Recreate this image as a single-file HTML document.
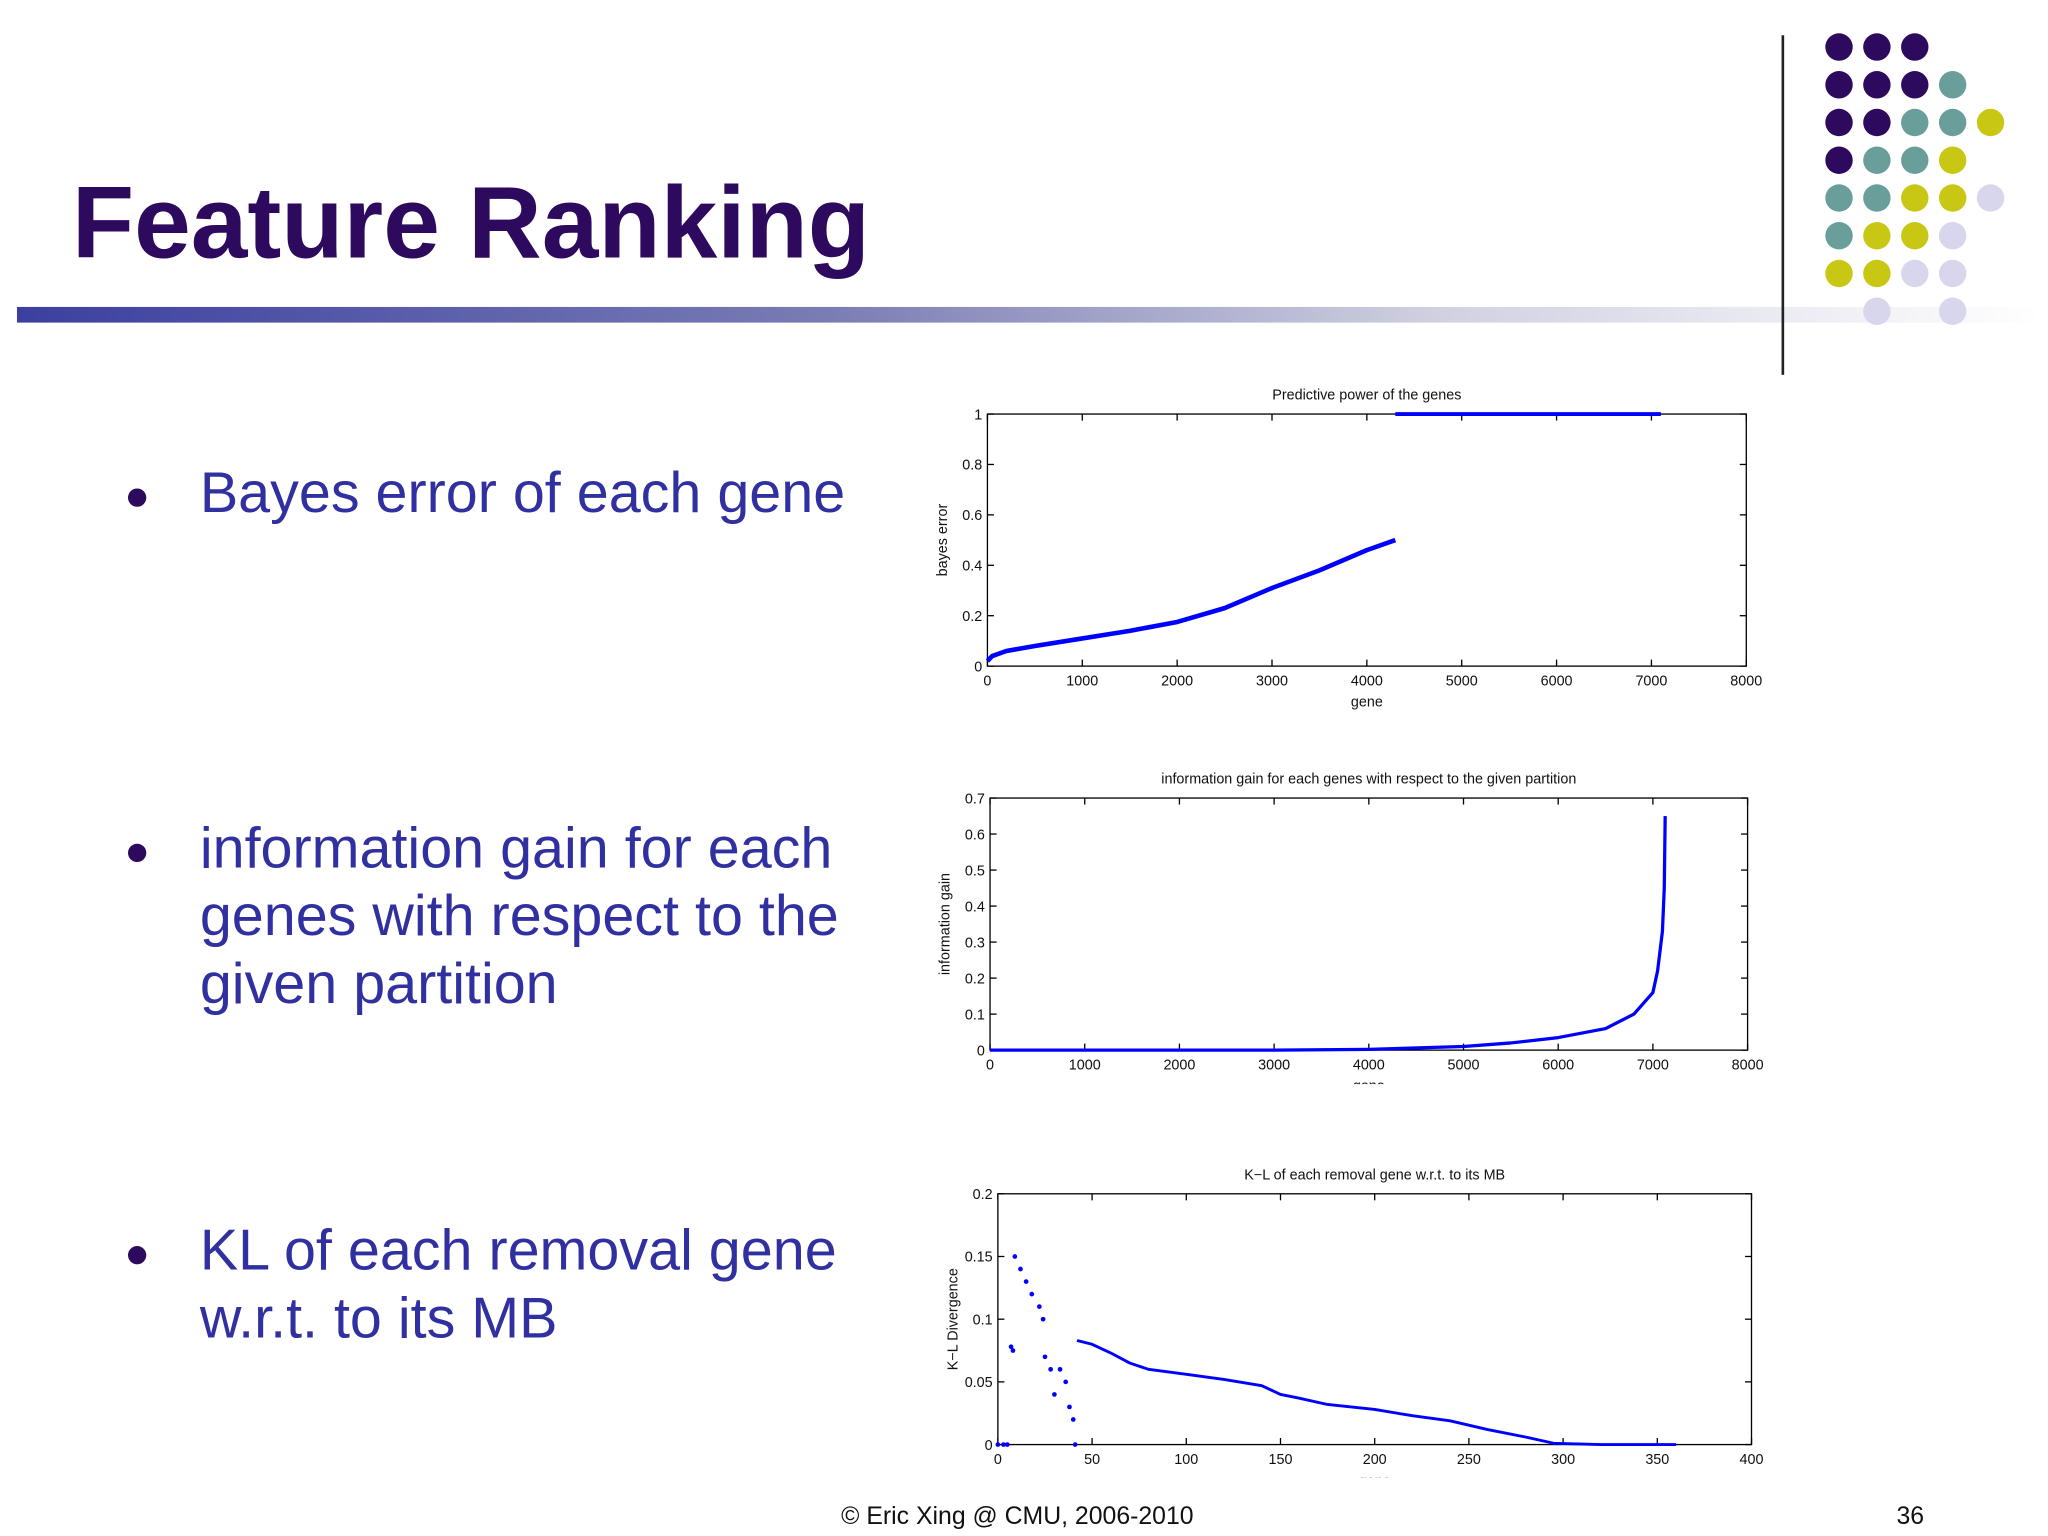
<!DOCTYPE html>
<html><head><meta charset="utf-8">
<style>
html,body{margin:0;padding:0;background:#fff;overflow:hidden}
#wrap{width:1568px;height:1176px;position:relative;transform:scale(1.306122);transform-origin:0 0;font-family:"Liberation Sans",sans-serif}
.t{position:absolute;white-space:nowrap}
.bul{position:absolute;color:#3030a0;font-size:44px;line-height:52px}
.dot{position:absolute;width:14px;height:14px;border-radius:50%;background:#2e0a5e}
</style></head><body>
<div id="wrap">
<div class="t" style="left:55px;top:125px;font-size:78px;font-weight:bold;color:#2e0a5e">Feature Ranking</div>
<div style="position:absolute;left:13px;top:235px;width:1550px;height:12px;background:linear-gradient(to right,#3b40a0,#7a7cb4 40%,#d0d0e0 70%,#fff)"></div>
<div style="position:absolute;left:1364px;top:27px;width:2px;height:260px;background:#222"></div>
<svg id="dots" style="position:absolute;left:0;top:0" width="1568" height="300"></svg>

<div class="dot" style="left:98px;top:374px"></div>
<div class="bul" style="left:153px;top:352px">Bayes error of each gene</div>
<div class="dot" style="left:98px;top:646px"></div>
<div class="bul" style="left:153px;top:624px">information gain for each<br>genes with respect to the<br>given partition</div>
<div class="dot" style="left:98px;top:954px"></div>
<div class="bul" style="left:153px;top:932px">KL of each removal gene<br>w.r.t. to its MB</div>

<svg id="charts" style="position:absolute;left:0;top:0" width="1568" height="1176" font-family="Liberation Sans, sans-serif" font-size="11"></svg>

<div class="t" style="left:644px;top:1151px;font-size:19px;color:#111">© Eric Xing @ CMU, 2006-2010</div>
<div class="t" style="left:1452px;top:1151px;font-size:19px;color:#111">36</div>
</div>
<script>
var dotRows=["PPP","PPPT","PPTTY","PTTY","TTYYL","TYYL","YYLL"," L L"];
var dcol={P:"#2e0a5e",T:"#6a9e9a",Y:"#c8c814",L:"#d8d6ec"};
var ds=document.getElementById('dots');
dotRows.forEach(function(r,i){for(var j=0;j<r.length;j++){if(r[j]==' ')continue;
var c=document.createElementNS("http://www.w3.org/2000/svg","circle");
c.setAttribute('cx',1408+j*29);c.setAttribute('cy',36+i*28.9);c.setAttribute('r',10.5);c.setAttribute('fill',dcol[r[j]]);


ds.appendChild(c);}});

var c1X=[0,50,200,500,1000,1500,2000,2500,3000,3500,4000,4300];
var c1Y=[0.02,0.04,0.06,0.08,0.11,0.14,0.175,0.23,0.31,0.38,0.46,0.5];
var c1TopX=[4300,7100];var c1TopY=[1,1];
var c1XTicks=[0,1000,2000,3000,4000,5000,6000,7000,8000];
var c1YTicks=[0,0.2,0.4,0.6,0.8,1];
var c2X=[0,3000,4000,5000,5500,6000,6500,6800,7000,7050,7100,7120,7130];
var c2Y=[0,0,0.002,0.01,0.02,0.035,0.06,0.1,0.16,0.22,0.33,0.45,0.65];
var c2XTicks=[0,1000,2000,3000,4000,5000,6000,7000,8000];
var c2YTicks=[0,0.1,0.2,0.3,0.4,0.5,0.6,0.7];
var c3X=[0,3,5,7,8,9,12,15,18,22,24,25,28,30,33,36,38,40,41,42,50,60,70,80,100,120,140,150,160,175,200,220,240,260,280,295,320,360];
var c3Y=[0,0,0,0.078,0.075,0.15,0.14,0.13,0.12,0.11,0.10,0.07,0.06,0.04,0.06,0.05,0.03,0.02,0,0.083,0.08,0.073,0.065,0.06,0.056,0.052,0.047,0.04,0.037,0.032,0.028,0.023,0.019,0.012,0.006,0.001,0,0];
var c3MainStart=19;
var c3XTicks=[0,50,100,150,200,250,300,350,400];
var c3YTicks=[0,0.05,0.1,0.15,0.2];
var c3YLabels=["0","0.05","0.1","0.15","0.2"];

var S=document.getElementById('charts');NS="http://www.w3.org/2000/svg";
function el(t,a,name){var e=document.createElementNS(NS,t);for(var k in a)e.setAttribute(k,a[k]);


S.appendChild(e);return e;}
function txt(x,y,s,anchor,name,rot){var e=el('text',{x:x,y:y,'text-anchor':anchor||'middle',fill:'#111'},name);e.textContent=s;if(rot)e.setAttribute('transform','rotate(-90 '+x+' '+y+')');return e;}
function chart(o){
 var sx=function(v){return o.x0+(v-o.xmin)/(o.xmax-o.xmin)*(o.x1-o.x0)};
 var sy=function(v){return o.y1-(v-o.ymin)/(o.ymax-o.ymin)*(o.y1-o.y0)};
 el('rect',{x:o.x0,y:o.y0,width:o.x1-o.x0,height:o.y1-o.y0,fill:'none',stroke:'#000','stroke-width':1},o.p+'-plot-frame');
 o.xt.forEach(function(v){var x=sx(v);el('line',{x1:x,x2:x,y1:o.y1,y2:o.y1-5,stroke:'#000'},o.p+'-x-tick');el('line',{x1:x,x2:x,y1:o.y0,y2:o.y0+5,stroke:'#000'},o.p+'-x-tick');txt(x,o.y1+15,String(v),'middle',o.p+'-x-tick-label');});
 o.yt.forEach(function(v,i){var y=sy(v);el('line',{x1:o.x0,x2:o.x0+5,y1:y,y2:y,stroke:'#000'},o.p+'-y-tick');el('line',{x1:o.x1,x2:o.x1-5,y1:y,y2:y,stroke:'#000'},o.p+'-y-tick');txt(o.x0-4,y+4,o.yl?o.yl[i]:String(v),'end',o.p+'-y-tick-label');});
 txt((o.x0+o.x1)/2,o.y0-11,o.title,'middle',o.p+'-title');
 if(o.xlabel){var t=txt((o.x0+o.x1)/2,o.y1+31,o.xlabel,'middle',o.p+'-x-axis-title');if(o.clip)t.setAttribute('clip-path','url(#'+o.clip+')');}
 txt(o.x0-31,(o.y0+o.y1)/2,o.ylabel,'middle',o.p+'-y-axis-title',true);
 return {sx:sx,sy:sy};
}
function line(ax,X,Y,name,w,a,b){var p=[];for(var i=(a||0);i<(b||X.length);i++)p.push(ax.sx(X[i]).toFixed(1)+','+ax.sy(Y[i]).toFixed(1));
 el('polyline',{points:p.join(' '),fill:'none',stroke:'#0000ff','stroke-width':w,'stroke-linejoin':'round'},name);}
function pts(ax,X,Y,name,a,b){for(var i=(a||0);i<(b||X.length);i++)el('circle',{cx:ax.sx(X[i]),cy:ax.sy(Y[i]),r:1.8,fill:'#0000ff'},name);}
S.innerHTML='<defs><clipPath id="cl2"><rect x="0" y="0" width="1568" height="830"/></clipPath><clipPath id="cl3"><rect x="0" y="0" width="1568" height="1131"/></clipPath></defs>';

var a1=chart({p:'c1',x0:756,x1:1337,y0:317,y1:510,xmin:0,xmax:8000,ymin:0,ymax:1,xt:c1XTicks,yt:c1YTicks,title:'Predictive power of the genes',xlabel:'gene',ylabel:'bayes error'});
line(a1,c1X,c1Y,'c1-bayes-error-series',3.5);
line(a1,c1TopX,c1TopY,'c1-top-series',3);
var a2=chart({p:'c2',x0:758,x1:1338,y0:611,y1:804,xmin:0,xmax:8000,ymin:0,ymax:0.7,xt:c2XTicks,yt:c2YTicks,title:'information gain for each genes with respect to the given partition',xlabel:'gene',clip:'cl2',ylabel:'information gain'});
line(a2,c2X,c2Y,'c2-info-gain-series',2.5);
var a3=chart({p:'c3',x0:764,x1:1341,y0:914,y1:1106,xmin:0,xmax:400,ymin:0,ymax:0.2,xt:c3XTicks,yt:c3YTicks,yl:c3YLabels,title:'K\u2212L of each removal gene w.r.t. to its MB',xlabel:'gene',clip:'cl3',ylabel:'K\u2212L Divergence'});
pts(a3,c3X,c3Y,'c3-kl-point',0,c3MainStart);
line(a3,c3X,c3Y,'c3-kl-main-series',2.2,c3MainStart);
</script>
</body></html>
